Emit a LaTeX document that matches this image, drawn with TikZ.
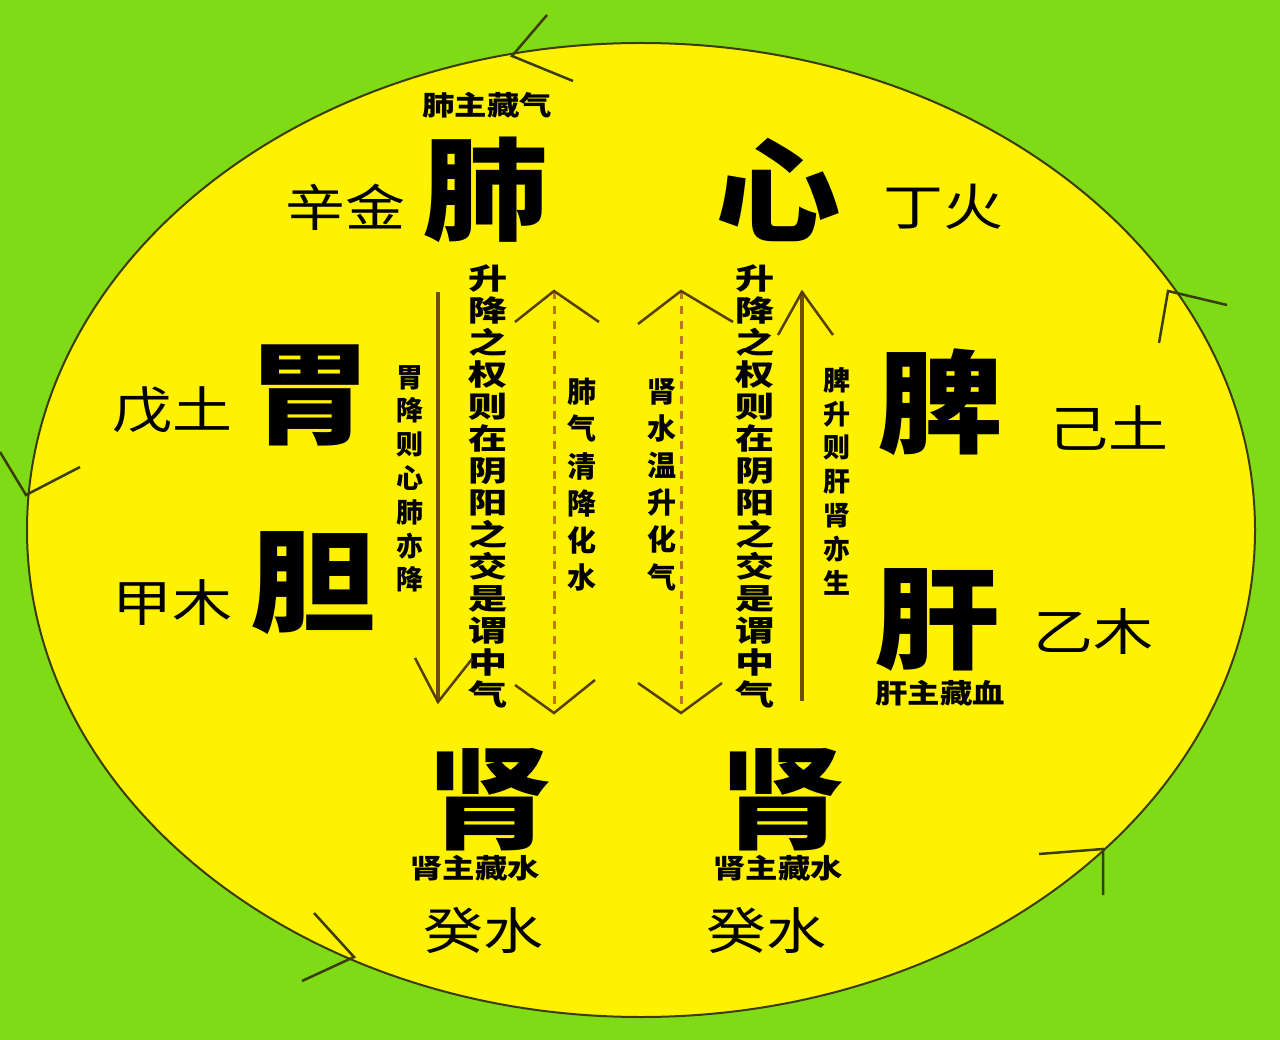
\documentclass[tikz,border=0pt]{standalone}
\usepackage{graphicx}
\usepackage{fontspec}
\newfontfamily\cjk{Noto Sans CJK SC}
\definecolor{bggreen}{RGB}{126,219,22}
\definecolor{ovyellow}{RGB}{255,242,0}
\definecolor{arrbrown}{RGB}{110,78,0}
\definecolor{dashbrown}{RGB}{190,118,30}
\definecolor{rimline}{RGB}{60,60,10}
\newcommand\wc[1]{\scalebox{1.35}[1]{#1}}
\newcommand\ws[1]{\scalebox{1.2}[1]{#1}}
\newcommand\wb[1]{\scalebox{1.12}[1]{#1}}
\begin{document}
\begin{tikzpicture}[x=1pt,y=-1pt,
  bigc/.style={font=\cjk\bfseries\fontsize{112}{112}\selectfont, inner sep=0},
  midc/.style={font=\cjk\fontsize{50}{50}\selectfont, inner sep=0},
  smallc/.style={font=\cjk\bfseries\fontsize{27}{27}\selectfont, inner sep=0},
  colA/.style={font=\cjk\bfseries\fontsize{29}{32}\selectfont, inner sep=0, align=center, anchor=north},
  colC/.style={font=\cjk\bfseries\fontsize{27}{33.8}\selectfont, inner sep=0, align=center, anchor=north},
  colD/.style={font=\cjk\bfseries\fontsize{29}{37.2}\selectfont, inner sep=0, align=center, anchor=north},
  solidarr/.style={draw=arrbrown, line width=3.5pt},
  dasharr/.style={draw=dashbrown, line width=3pt, dash pattern=on 8pt off 7pt},
  vhead/.style={draw=arrbrown!80!black, line width=2.5pt, line join=miter},
  rimhead/.style={draw=rimline, line width=2.5pt, line join=miter}
]
\useasboundingbox (0,0) rectangle (1280,1040);
\fill[bggreen] (0,0) rectangle (1280,1040);
\draw[fill=ovyellow, draw=rimline, line width=2pt] (641,530) ellipse [x radius=614, y radius=487];

% chevrons on the rim
\draw[rimhead] (547,15) -- (512,56) -- (573,81);
\draw[rimhead] (1159,343) -- (1168,291) -- (1227,305);
\draw[rimhead] (0,452) -- (26,495) -- (80,467);
\draw[rimhead] (314,913) -- (354,957) -- (302,981);
\draw[rimhead] (1039,854) -- (1103,849) -- (1103,895);

% big organ characters
\node[bigc] (fei) at (485,190) {\wb{肺}};
\node[bigc] (xin) at (778,190) {\wb{心}};
\node[bigc] (wei) at (310,395) {\wb{胃}};
\node[bigc] (pi) at (940,402) {\wb{脾}};
\node[bigc] (dan) at (313,583) {\wb{胆}};
\node[bigc] (gan) at (937,620) {\wb{肝}};
\node[bigc] (shenL) at (490,800) {\wb{肾}};
\node[bigc] (shenR) at (783,800) {\wb{肾}};

% stems
\node[midc] (xinjin) at (345,207) {\ws{辛金}};
\node[midc] (dinghuo) at (943,207) {\ws{丁火}};
\node[midc] (wutu) at (172,410) {\ws{戊土}};
\node[midc] (jitu) at (1108,428) {\ws{己土}};
\node[midc] (jiamu) at (172,603) {\ws{甲木}};
\node[midc] (yimu) at (1093,632) {\ws{乙木}};
\node[midc] (guiL) at (483,930) {\ws{癸水}};
\node[midc] (guiR) at (766,930) {\ws{癸水}};

% small labels
\node[smallc] (feizhu) at (487,105) {\ws{肺主藏气}};
\node[smallc] (ganzhu) at (940,693) {\ws{肝主藏血}};
\node[smallc] (shenzhuL) at (475,868) {\ws{肾主藏水}};
\node[smallc] (shenzhuR) at (778,868) {\ws{肾主藏水}};

% vertical columns
\node[colA] (colL) at (488,264) {\wc{升}\\\wc{降}\\\wc{之}\\\wc{权}\\\wc{则}\\\wc{在}\\\wc{阴}\\\wc{阳}\\\wc{之}\\\wc{交}\\\wc{是}\\\wc{谓}\\\wc{中}\\\wc{气}};
\node[colA] (colR) at (755,264) {\wc{升}\\\wc{降}\\\wc{之}\\\wc{权}\\\wc{则}\\\wc{在}\\\wc{阴}\\\wc{阳}\\\wc{之}\\\wc{交}\\\wc{是}\\\wc{谓}\\\wc{中}\\\wc{气}};
\node[colC] (weijiang) at (410,365) {胃\\降\\则\\心\\肺\\亦\\降};
\node[colC] (pisheng) at (837,367) {脾\\升\\则\\肝\\肾\\亦\\生};
\node[colD] (feiqi) at (582,378) {肺\\气\\清\\降\\化\\水};
\node[colD] (shenshui) at (662,378) {肾\\水\\温\\升\\化\\气};

% arrow end points
\coordinate (a1t) at (438,292); \coordinate (a1b) at (438,702);
\coordinate (a2t) at (554,291); \coordinate (a2b) at (554,713);
\coordinate (a3t) at (681,291); \coordinate (a3b) at (681,713);
\coordinate (a4t) at (802,292); \coordinate (a4b) at (802,701);

\draw[solidarr] (a1t) -- (a1b);
\draw[vhead] (415,658) -- (a1b) -- (472,659);

\draw[dasharr] (a2t) -- (a2b);
\draw[vhead] (515,322) -- (a2t) -- (599,322);
\draw[vhead] (515,685) -- (a2b) -- (595,680);

\draw[dasharr] (a3t) -- (a3b);
\draw[vhead] (638,324) -- (a3t) -- (733,322);
\draw[vhead] (638,683) -- (a3b) -- (722,683);

\draw[solidarr] (a4t) -- (a4b);
\draw[vhead] (778,335) -- (a4t) -- (833,335);
\end{tikzpicture}
\end{document}
